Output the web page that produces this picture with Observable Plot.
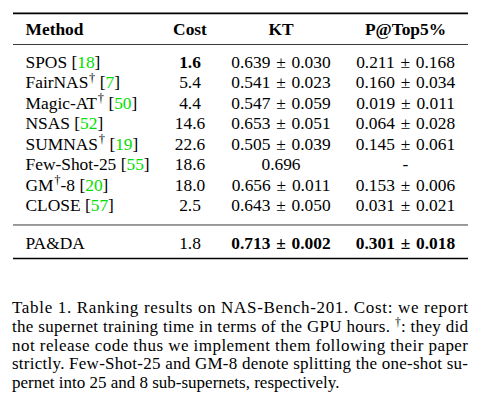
<!DOCTYPE html>
<html>
<head>
<meta charset="utf-8">
<script src="https://cdn.jsdelivr.net/npm/d3@7"></script>
<script src="https://cdn.jsdelivr.net/npm/@observablehq/plot@0.6"></script>
<style>
  html, body { margin: 0; padding: 0; background: #fff; }
  body { font-family: "Liberation Serif", "Times New Roman", serif; color: #000; width: 480px; }
  svg { display: block; }
</style>
</head>
<body>
<div id="chart"></div>
<script>
// ---- data ----
const headers = ["Method", "Cost", "KT", "P@Top5%"];
const methods = ["SPOS", "FairNAS†", "Magic-AT†", "NSAS", "SUMNAS†", "Few-Shot-25", "GM†-8", "CLOSE", "PA&DA"];
const cites   = [18, 7, 50, 52, 19, 55, 20, 57, null];
const costs   = [1.6, 5.4, 4.4, 14.6, 22.6, 18.6, 18.0, 2.5, 1.8];
const ktMean  = [0.639, 0.541, 0.547, 0.653, 0.505, 0.696, 0.656, 0.643, 0.713];
const ktStd   = [0.030, 0.023, 0.059, 0.051, 0.039, null, 0.011, 0.050, 0.002];
const pMean   = [0.211, 0.160, 0.019, 0.064, 0.145, null, 0.153, 0.031, 0.301];
const pStd    = [0.168, 0.034, 0.011, 0.028, 0.061, null, 0.006, 0.021, 0.018];
const captionLines = [
  "Table 1.  Ranking results on NAS-Bench-201.  Cost:  we report",
  "the supernet training time in terms of the GPU hours. †: they did",
  "not release code thus we implement them following their paper",
  "strictly. Few-Shot-25 and GM-8 denote splitting the one-shot su-",
  "pernet into 25 and 8 sub-supernets, respectively."
];

// ---- layout (not data) ----
const layout = {
  width: 480, height: 275,
  colX: [25, 189.5, 280.5, 405],
  colAnchor: ["start", "middle", "middle", "middle"],
  ruleX: [13, 468],
  pitch: 20.5,
  headerRow: -0.61,
  footerRow: 9.83,
  heavyRules: [-1.37, 10.585],
  lightRules: [0.146, 8.95],
  fontSize: 17.4,
  green: "#00e000",
  pmSpace: "\u2004",
  capHeight: 132, capLeft: 12, capWidth: 456, capFirstBaseline: 38, capLine: 18.8, capFont: 17, capSup: 11.5
};

// ---- build cells ----
const f1 = d3.format(".1f"), f3 = d3.format(".3f");
const pm = (a, b) => `${f3(a)}${layout.pmSpace}±${layout.pmSpace}${f3(b)}`;
const bestCost = d3.min(costs), bestKT = d3.max(ktMean), bestP = d3.max(pMean);
const label = (i) => cites[i] != null ? `${methods[i]} [${cites[i]}]` : methods[i];
const cells = [];
headers.forEach((h, j) => cells.push({row: layout.headerRow, col: j, text: h, bold: true}));
methods.forEach((m, i) => {
  const row = i < methods.length - 1 ? i + 1 : layout.footerRow;
  cells.push({row, col: 0, text: label(i), bold: false});
  cells.push({row, col: 1, text: f1(costs[i]), bold: costs[i] === bestCost});
  cells.push({row, col: 2, text: ktStd[i] == null ? f3(ktMean[i]) : pm(ktMean[i], ktStd[i]), bold: ktMean[i] === bestKT});
  cells.push({row, col: 3, text: pMean[i] == null ? "-" : pm(pMean[i], pStd[i]), bold: pMean[i] === bestP});
});

const textMarks = [];
for (const anchor of ["start", "middle"]) {
  for (const bold of [false, true]) {
    const sub = cells.filter(c => layout.colAnchor[c.col] === anchor && c.bold === bold);
    if (!sub.length) continue;
    textMarks.push(Plot.text(sub, {
      x: d => layout.colX[d.col], y: "row", text: "text",
      textAnchor: anchor, fontWeight: bold ? "bold" : "normal",
      fontSize: layout.fontSize, fill: "black"
    }));
  }
}

const y0 = -61.5 / layout.pitch + 1;
const chart = Plot.plot({
  width: layout.width, height: layout.height,
  margin: 0,
  style: {fontFamily: "'Liberation Serif', 'Times New Roman', serif", fontSize: "17px", background: "white", color: "black"},
  x: {domain: [0, layout.width], range: [0, layout.width], axis: null},
  y: {domain: [y0, y0 + layout.height / layout.pitch], range: [0, layout.height], axis: null},
  marks: [
    Plot.ruleY(layout.heavyRules, {y: d => d, x1: () => layout.ruleX[0], x2: () => layout.ruleX[1], stroke: "black", strokeWidth: 1.6}),
    Plot.ruleY(layout.lightRules, {y: d => d, x1: () => layout.ruleX[0], x2: () => layout.ruleX[1], stroke: "#222", strokeWidth: 0.9}),
    ...textMarks
  ]
});
const host = document.getElementById("chart");
host.appendChild(chart);

// rich method labels: superscript dagger and green citations
const labelIndex = new Map(methods.map((m, i) => [label(i), i]));
d3.select(chart).selectAll("text").each(function() {
  const i = labelIndex.get(this.textContent);
  if (i === undefined) return;
  const t = d3.select(this);
  t.text(null);
  let pendingDy = 0;
  const add = (s) => {
    const el = t.append("tspan").text(s);
    if (pendingDy) { el.attr("dy", pendingDy); pendingDy = 0; }
    return el;
  };
  methods[i].split("†").forEach((part, k) => {
    if (k > 0) {
      t.append("tspan").attr("font-size", 12.5).attr("dx", 0.8).attr("dy", -6.5).text("†");
      pendingDy = 6.5;
    }
    if (part) add(part);
  });
  if (cites[i] != null) {
    add(" [");
    t.append("tspan").attr("fill", layout.green).text(cites[i]);
    t.append("tspan").text("]");
  }
});

// caption below the table: justified lines (textLength stretches the spacing)
const capSvg = d3.create("svg")
  .attr("width", layout.width).attr("height", layout.capHeight)
  .attr("viewBox", `0 0 ${layout.width} ${layout.capHeight}`)
  .style("background", "white")
  .attr("font-family", "'Liberation Serif', 'Times New Roman', serif")
  .attr("font-size", layout.capFont).attr("fill", "black");
captionLines.forEach((line, k) => {
  const t = capSvg.append("text")
    .attr("x", layout.capLeft)
    .attr("y", layout.capFirstBaseline + k * layout.capLine);
  if (k < captionLines.length - 1) t.attr("textLength", layout.capWidth).attr("lengthAdjust", "spacing");
  const clean = line.replace(/\s+/g, " ");
  let pendingDy = 0;
  clean.split("†").forEach((part, p) => {
    if (p > 0) {
      t.append("tspan").attr("font-size", layout.capSup).attr("dy", -6).text("†");
      pendingDy = 6;
    }
    if (part) {
      const s = t.append("tspan").text(part);
      if (pendingDy) { s.attr("dy", pendingDy); pendingDy = 0; }
    }
  });
});
host.appendChild(capSvg.node());
</script>
</body>
</html>
